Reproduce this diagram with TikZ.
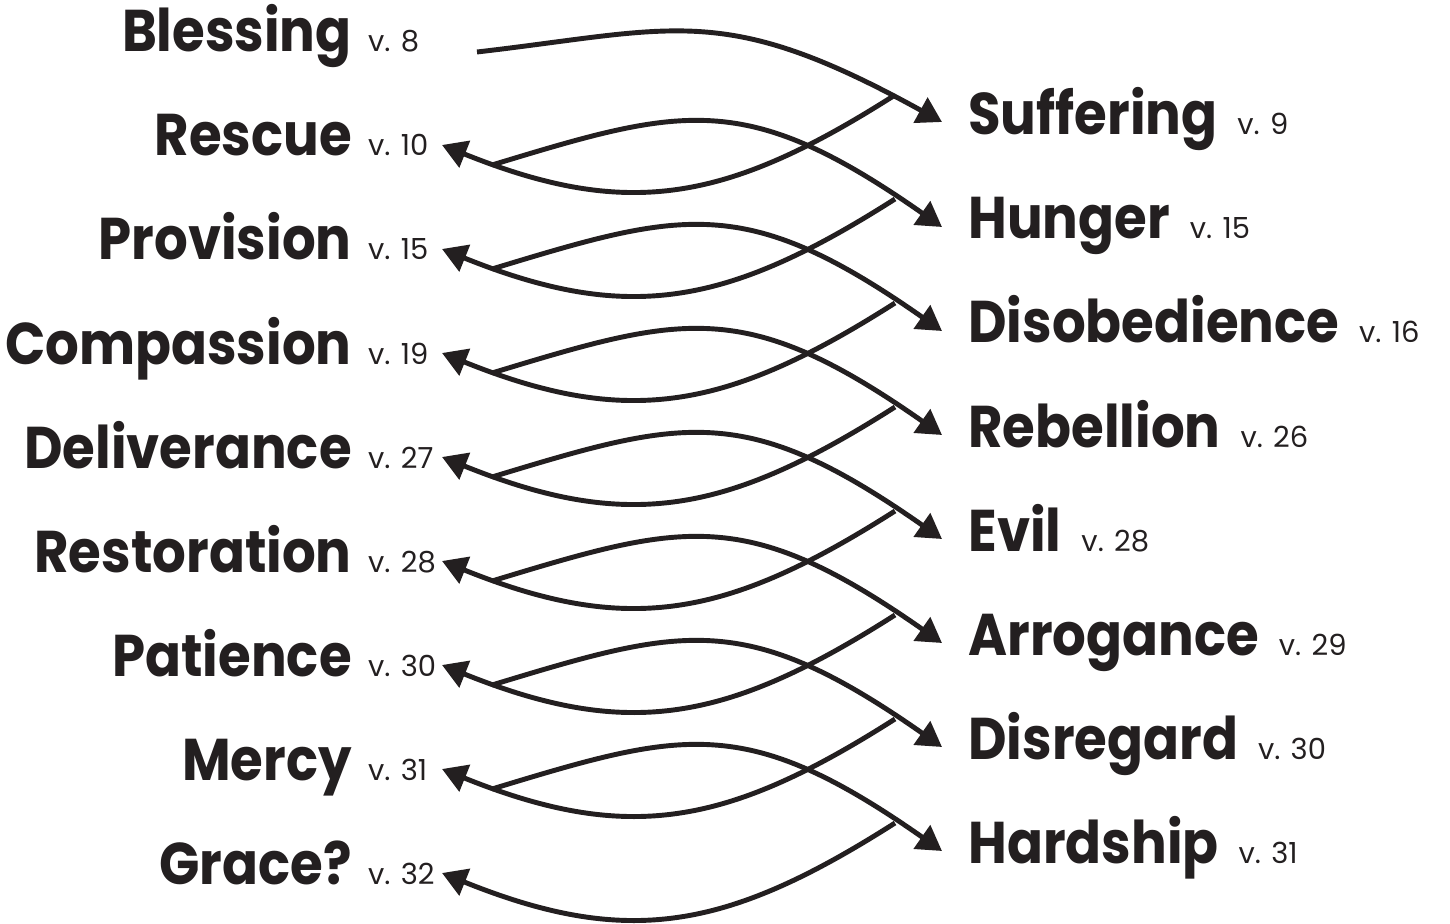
\documentclass[tikz,border=0pt]{standalone}
\usepackage{fontspec}
\setmainfont{Poppins}
\newfontfamily\wordfont[FakeStretch=0.9]{Poppins}
\usepackage{xcolor}
\usetikzlibrary{arrows.meta}

\definecolor{ink}{HTML}{231F20}

\tikzset{
  word/.style={font=\wordfont\bfseries\fontsize{33.5}{40}\selectfont, text=ink, inner sep=0pt},
  verse/.style={font=\fontsize{16.5}{19}\selectfont, text=ink, inner sep=0pt},
  link/.style={draw=ink, line width=2.8pt, -{Triangle[length=14pt,width=16pt]}}
}

\begin{document}
\begin{tikzpicture}[x=0.2mm, y=-0.2mm]
    \useasboundingbox (0,0) rectangle (1450,924);

    % left column
    \node (bless)  at (352,52)  [word, anchor=base east] {Blessing};
    \node (rescue) at (352,156) [word, anchor=base east] {Rescue};
    \node (provis) at (352,260) [word, anchor=base east] {Provision};
    \node (compas) at (352,364) [word, anchor=base east] {Compassion};
    \node (deliv)  at (352,468) [word, anchor=base east] {Deliverance};
    \node (restor) at (352,572) [word, anchor=base east] {Restoration};
    \node (patien) at (352,676) [word, anchor=base east] {Patience};
    \node (mercy)  at (352,780) [word, anchor=base east] {Mercy};
    \node (grace)  at (352,884) [word, anchor=base east] {Grace?};

    \node (blessv)  at ([xshift=9pt]bless.base east)  [verse, anchor=base west] {v. 8};
    \node (rescuev) at ([xshift=9pt]rescue.base east) [verse, anchor=base west] {v. 10};
    \node (provisv) at ([xshift=9pt]provis.base east) [verse, anchor=base west] {v. 15};
    \node (compasv) at ([xshift=9pt]compas.base east) [verse, anchor=base west] {v. 19};
    \node (delivv)  at ([xshift=9pt]deliv.base east)  [verse, anchor=base west] {v. 27};
    \node (restorv) at ([xshift=9pt]restor.base east) [verse, anchor=base west] {v. 28};
    \node (patienv) at ([xshift=9pt]patien.base east) [verse, anchor=base west] {v. 30};
    \node (mercyv)  at ([xshift=9pt]mercy.base east)  [verse, anchor=base west] {v. 31};
    \node (gracev)  at ([xshift=9pt]grace.base east)  [verse, anchor=base west] {v. 32};

    % right column
    \node (suffer) at (968,135) [word, anchor=base west] {Suffering};
    \node (hunger) at (968,239) [word, anchor=base west] {Hunger};
    \node (disob)  at (968,343) [word, anchor=base west] {Disobedience};
    \node (rebel)  at (968,447) [word, anchor=base west] {Rebellion};
    \node (evil)   at (968,551) [word, anchor=base west] {Evil};
    \node (arrog)  at (968,655) [word, anchor=base west] {Arrogance};
    \node (disreg) at (968,759) [word, anchor=base west] {Disregard};
    \node (hard)   at (968,863) [word, anchor=base west] {Hardship};

    \node (sufferv) at ([xshift=11pt]suffer.base east) [verse, anchor=base west] {v. 9};
    \node (hungerv) at ([xshift=11pt]hunger.base east) [verse, anchor=base west] {v. 15};
    \node (disobv)  at ([xshift=11pt]disob.base east)  [verse, anchor=base west] {v. 16};
    \node (rebelv)  at ([xshift=11pt]rebel.base east)  [verse, anchor=base west] {v. 26};
    \node (evilv)   at ([xshift=11pt]evil.base east)   [verse, anchor=base west] {v. 28};
    \node (arrogv)  at ([xshift=11pt]arrog.base east)  [verse, anchor=base west] {v. 29};
    \node (disregv) at ([xshift=11pt]disreg.base east) [verse, anchor=base west] {v. 30};
    \node (hardv)   at ([xshift=11pt]hard.base east)   [verse, anchor=base west] {v. 31};

    % arrow ends
    \coordinate (bless-out)  at (477,52);
    \coordinate (rescue-in)  at (442,145);
    \coordinate (rescue-out) at (492,165);
    \coordinate (provis-in)  at (442,249);
    \coordinate (provis-out) at (492,269);
    \coordinate (compas-in)  at (442,353);
    \coordinate (compas-out) at (492,373);
    \coordinate (deliv-in)   at (442,457);
    \coordinate (deliv-out)  at (492,477);
    \coordinate (restor-in)  at (442,561);
    \coordinate (restor-out) at (492,581);
    \coordinate (patien-in)  at (442,665);
    \coordinate (patien-out) at (492,685);
    \coordinate (mercy-in)   at (442,769);
    \coordinate (mercy-out)  at (492,789);
    \coordinate (grace-in)   at (442,873);

    \coordinate (suffer-in)  at (942,122);
    \coordinate (suffer-out) at (895,95);
    \coordinate (hunger-in)  at (942,227);
    \coordinate (hunger-out) at (895,199);
    \coordinate (disob-in)   at (942,331);
    \coordinate (disob-out)  at (895,303);
    \coordinate (rebel-in)   at (942,435);
    \coordinate (rebel-out)  at (895,407);
    \coordinate (evil-in)    at (942,539);
    \coordinate (evil-out)   at (895,511);
    \coordinate (arrog-in)   at (942,643);
    \coordinate (arrog-out)  at (895,615);
    \coordinate (disreg-in)  at (942,747);
    \coordinate (disreg-out) at (895,719);
    \coordinate (hard-in)    at (942,851);
    \coordinate (hard-out)   at (895,823);

    % left to right
    \draw [link] (bless-out)  .. controls +(199,-23) and +(-219,-121) .. (suffer-in);
    \draw [link] (rescue-out) .. controls +(191,-58) and +(-197,-138) .. (hunger-in);
    \draw [link] (provis-out) .. controls +(191,-58) and +(-197,-138) .. (disob-in);
    \draw [link] (compas-out) .. controls +(191,-58) and +(-197,-138) .. (rebel-in);
    \draw [link] (deliv-out)  .. controls +(191,-58) and +(-197,-138) .. (evil-in);
    \draw [link] (restor-out) .. controls +(191,-58) and +(-197,-138) .. (arrog-in);
    \draw [link] (patien-out) .. controls +(191,-58) and +(-197,-138) .. (disreg-in);
    \draw [link] (mercy-out)  .. controls +(191,-58) and +(-197,-138) .. (hard-in);

    % right to left
    \draw [link] (suffer-out) .. controls +(-168,107) and +(186,75) .. (rescue-in);
    \draw [link] (hunger-out) .. controls +(-168,107) and +(186,75) .. (provis-in);
    \draw [link] (disob-out)  .. controls +(-168,107) and +(186,75) .. (compas-in);
    \draw [link] (rebel-out)  .. controls +(-168,107) and +(186,75) .. (deliv-in);
    \draw [link] (evil-out)   .. controls +(-168,107) and +(186,75) .. (restor-in);
    \draw [link] (arrog-out)  .. controls +(-168,107) and +(186,75) .. (patien-in);
    \draw [link] (disreg-out) .. controls +(-168,107) and +(186,75) .. (mercy-in);
    \draw [link] (hard-out)   .. controls +(-168,107) and +(186,75) .. (grace-in);
\end{tikzpicture}
\end{document}
